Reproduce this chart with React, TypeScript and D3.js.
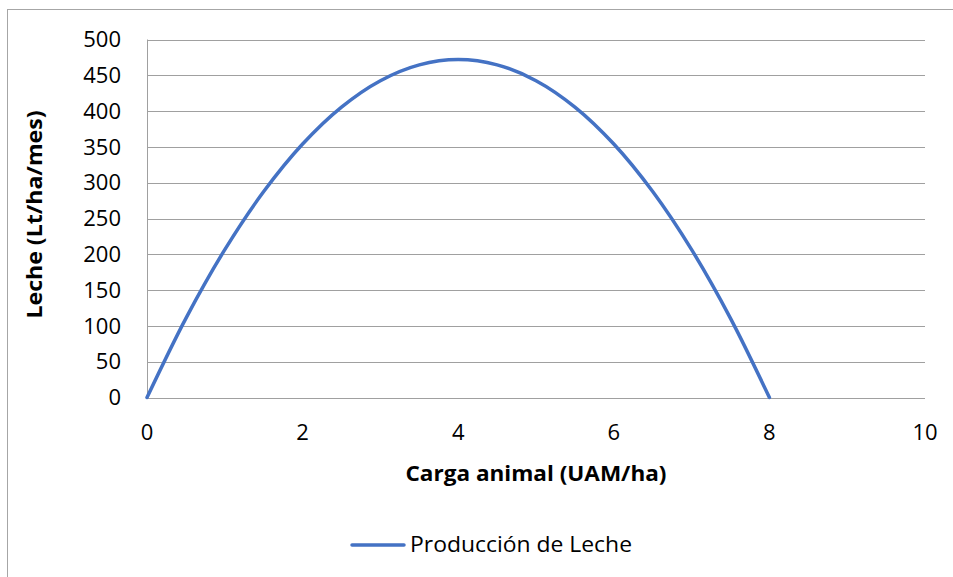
import React, { useEffect, useRef } from "react";
import * as d3 from "d3";

const carga = [0, 0.5, 1, 1.5, 2, 2.5, 3, 3.5, 4, 4.5, 5, 5.5, 6, 6.5, 7, 7.5, 8];
const leche = [0, 110.6, 206.5, 287.6, 354, 405.6, 442.5, 464.6, 472, 464.6, 442.5, 405.6, 354, 287.6, 206.5, 110.6, 0];
const xTicks = [0, 2, 4, 6, 8, 10];
const yTicks = [0, 50, 100, 150, 200, 250, 300, 350, 400, 450, 500];
const seriesName = "Producción de Leche";
const xTitle = "Carga animal (UAM/ha)";
const yTitle = "Leche (Lt/ha/mes)";

const W = 953, H = 577;
const FONT = "'Open Sans', Lato, sans-serif";

export default function App() {
  const ref = useRef<SVGSVGElement>(null);
  useEffect(() => {
    const svg = d3.select(ref.current);
    svg.selectAll("*").remove();
    const left = 147, right = 925, top = 39.5, bottom = 397.5;
    const x = d3.scaleLinear().domain([0, 10]).range([left, right]);
    const y = d3.scaleLinear().domain([0, 500]).range([bottom, top]);

    svg.append("rect").attr("x", 0).attr("y", 0).attr("width", W).attr("height", H).attr("fill", "#fff");
    svg.append("rect").attr("x", 7.5).attr("y", 9.5).attr("width", W + 10).attr("height", H + 10)
      .attr("fill", "none").attr("stroke", "#a6a6a6").attr("stroke-width", 1);

    const g = svg.append("g");
    g.selectAll("line.grid").data(yTicks).join("line")
      .attr("x1", left).attr("x2", right)
      .attr("y1", d => Math.round(y(d)) + 0.5).attr("y2", d => Math.round(y(d)) + 0.5)
      .attr("stroke", "#a0a0a0").attr("stroke-width", 1);
    g.append("line").attr("x1", left + 0.5).attr("x2", left + 0.5).attr("y1", y(500)).attr("y2", y(0))
      .attr("stroke", "#a0a0a0");

    g.selectAll("text.yt").data(yTicks).join("text")
      .attr("x", 121).attr("y", d => y(d)).attr("dy", "0.35em")
      .attr("text-anchor", "end").attr("font-family", FONT).attr("font-size", 22).attr("fill", "#000")
      .text(d => d);
    g.selectAll("text.xt").data(xTicks).join("text")
      .attr("x", d => x(d)).attr("y", 432).attr("dy", "0.35em")
      .attr("text-anchor", "middle").attr("font-family", FONT).attr("font-size", 22).attr("fill", "#000")
      .text(d => d);

    const line = d3.line<number>().x((_, i) => x(carga[i])).y(d => y(d)).curve(d3.curveCatmullRom.alpha(0.5));
    g.append("path").datum(leche).attr("d", line).attr("fill", "none")
      .attr("stroke", "#4472c4").attr("stroke-width", 3.5).attr("stroke-linecap", "round");

    g.append("text").attr("x", (left + right) / 2).attr("y", 474).attr("dy", "0.35em")
      .attr("text-anchor", "middle").attr("font-family", FONT).attr("font-weight", "bold")
      .attr("font-size", 21).attr("textLength", 261).attr("lengthAdjust", "spacingAndGlyphs").text(xTitle);
    g.append("text").attr("transform", `translate(35,${(top + bottom) / 2 - 4}) rotate(-90)`).attr("dy", "0.35em")
      .attr("text-anchor", "middle").attr("font-family", FONT).attr("font-weight", "bold")
      .attr("font-size", 21).attr("textLength", 208).attr("lengthAdjust", "spacingAndGlyphs").text(yTitle);

    g.append("line").attr("x1", 352).attr("x2", 404).attr("y1", 545).attr("y2", 545)
      .attr("stroke", "#4472c4").attr("stroke-width", 3.5).attr("stroke-linecap", "round");
    g.append("text").attr("x", 410).attr("y", 545).attr("dy", "0.35em")
      .attr("font-family", FONT).attr("font-size", 21).attr("textLength", 222).attr("lengthAdjust", "spacingAndGlyphs").text(seriesName);
  }, []);
  return <svg ref={ref} width={W} height={H} style={{ display: "block", position: "absolute", left: 0, top: 0 }} />;
}
